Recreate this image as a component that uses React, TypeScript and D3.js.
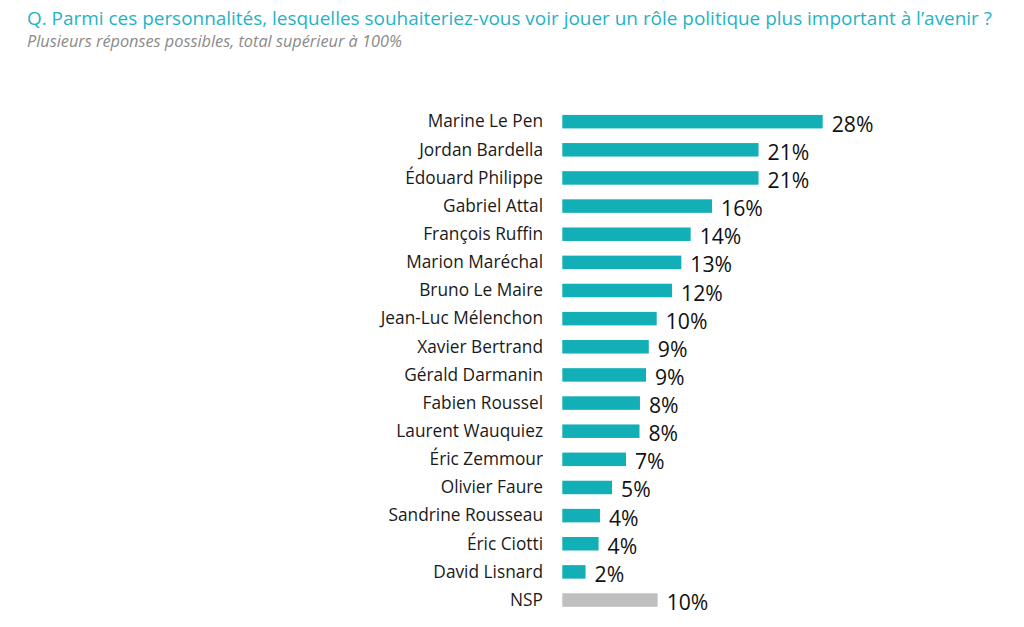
import React from "react";
import * as d3 from "d3";

const names = [
  "Marine Le Pen",
  "Jordan Bardella",
  "Édouard Philippe",
  "Gabriel Attal",
  "François Ruffin",
  "Marion Maréchal",
  "Bruno Le Maire",
  "Jean-Luc Mélenchon",
  "Xavier Bertrand",
  "Gérald Darmanin",
  "Fabien Roussel",
  "Laurent Wauquiez",
  "Éric Zemmour",
  "Olivier Faure",
  "Sandrine Rousseau",
  "Éric Ciotti",
  "David Lisnard",
  "NSP",
];

const values = [28.0, 21.1, 21.1, 16.1, 13.8, 12.8, 11.8, 10.15, 9.3, 9.0, 8.35, 8.3, 6.85, 5.35, 4.05, 3.9, 2.5, 10.25];

const valueLabels = ["28%", "21%", "21%", "16%", "14%", "13%", "12%", "10%", "9%", "9%", "8%", "8%", "7%", "5%", "4%", "4%", "2%", "10%"];

const title = "Q. Parmi ces personnalités, lesquelles souhaiteriez-vous voir jouer un rôle politique plus important à l’avenir ?";
const subtitle = "Plusieurs réponses possibles, total supérieur à 100%";

const W = 1024;
const H = 627;
const FONT = "'Open Sans', 'Noto Sans', sans-serif";

export default function App() {
  const x = d3.scaleLinear().domain([0, 28]).range([562.3, 822.7]);
  const y = d3
    .scaleBand<string>()
    .domain(names)
    .range([107.6, 614.1])
    .paddingInner(0.52)
    .paddingOuter(0.26);

  return (
    <svg
      width={W}
      height={H}
      style={{ position: "absolute", left: 0, top: 0, background: "#fff" }}
      fontFamily={FONT}
    >
      <text x={27} y={24.5} fontSize={18.95} fill="#1fb3c4">
        {title}
      </text>
      <text x={27} y={47} fontSize={16.3} fontStyle="italic" fill="#8a8a8a">
        {subtitle}
      </text>
      {names.map((n, i) => {
        const yy = y(n)!;
        const bw = y.bandwidth();
        const cy = yy + bw / 2;
        const isNsp = n === "NSP";
        return (
          <g key={n}>
            <text x={543} y={cy + 5.8} fontSize={17.3} textAnchor="end" fill="#1a1a1a">
              {n}
            </text>
            <rect
              x={x(0)}
              y={yy}
              width={x(values[i]) - x(0)}
              height={bw}
              fill={isNsp ? "#bfbfbf" : "#13afb6"}
            />
            <text x={x(values[i]) + 9} y={cy + 10} fontSize={21.2} fill="#111">
              {valueLabels[i]}
            </text>
          </g>
        );
      })}
    </svg>
  );
}
